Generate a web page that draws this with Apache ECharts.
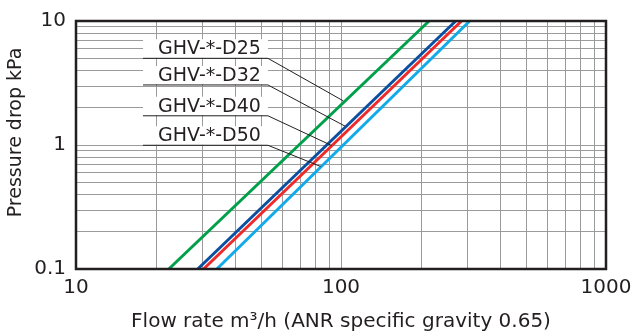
<!DOCTYPE html>
<html><head><meta charset="utf-8">
<script src="https://cdn.jsdelivr.net/npm/echarts@6/dist/echarts.min.js"></script>
<style>html,body{margin:0;padding:0;background:#fff}#c{width:635px;height:331px}</style>
</head><body><div id="c"></div>
<script>
// Series: [flow m3/h, pressure drop kPa] at both ends of each straight line (log-log)
const seriesNames = ['GHV-*-D25', 'GHV-*-D32', 'GHV-*-D40', 'GHV-*-D50'];
const seriesColors = ['#00a04a', '#0a4fa0', '#ee2a2a', '#12aae8'];
const d25 = [[22.4, 0.1], [215, 10]];
const d32 = [[28.8, 0.1], [271, 10]];
const d40 = [[30.3, 0.1], [285, 10]];
const d50 = [[34.0, 0.1], [306, 10]];
const seriesData = [d25, d32, d40, d50];
// Leader lines (data coordinates): start of underline, corner, point on curve
const leaderStartX = 17.9;
const leaderCornerX = 53;
const leaderY = [5.0, 3.05, 1.72, 0.995];
const leaderEnd = [[102, 2.27], [103.5, 1.42], [92.2, 0.99], [83.8, 0.671]];
// Axes
const xMin = 10, xMax = 1000, yMin = 0.1, yMax = 10;
const xMinorGrid = [20, 30, 40, 50, 60, 70, 80, 90, 200, 300, 400, 500, 600, 700, 800, 900];
const yMinorGrid = [0.2, 0.3, 0.4, 0.5, 0.6, 0.7, 0.8, 0.9, 2, 3, 4, 5, 6, 7, 8, 9];
const xTitle = 'Flow rate m³/h (ANR specific gravity 0.65)';
const yTitle = 'Pressure drop kPa';

const FONT = '"DejaVu Sans", sans-serif';
const TXT = '#231f20';
const GRIDC = '#9b9b9b';

const chart = echarts.init(document.getElementById('c'), null, {renderer: 'canvas'});

const series = [];
series.push({
  type: 'line', data: [], z: 1, silent: true,
  markLine: {
    silent: true, symbol: 'none', label: {show: false}, animation: false,
    lineStyle: {color: GRIDC, width: 1, type: 'solid'},
    data: xMinorGrid.map(v => ({xAxis: v})).concat(yMinorGrid.map(v => ({yAxis: v})))
  }
});
seriesData.forEach((d, i) => {
  series.push({
    type: 'line', name: seriesNames[i], data: d, showSymbol: false, symbol: 'none',
    z: 6, silent: true, lineStyle: {color: seriesColors[i], width: 3}
  });
});
leaderY.forEach((y, i) => {
  series.push({
    type: 'line', data: [[leaderStartX, y], [leaderCornerX, y], leaderEnd[i]],
    showSymbol: false, symbol: 'none', z: 7, silent: true,
    lineStyle: {color: '#231f20', width: 1}
  });
});

const fmt = v => String(v);
chart.setOption({
  animation: false,
  backgroundColor: '#fff',
  grid: {left: 76, right: 29, top: 21, bottom: 62, show: true, borderColor: '#231f20', borderWidth: 2.5, z: 8},
  xAxis: {
    type: 'log', logBase: 10, min: xMin, max: xMax,
    axisLine: {show: false}, axisTick: {show: false},
    axisLabel: {fontSize: 20, color: TXT, fontFamily: FONT, margin: 9, formatter: fmt},
    splitLine: {show: true, lineStyle: {color: GRIDC, width: 1}}
  },
  yAxis: {
    type: 'log', logBase: 10, min: yMin, max: yMax,
    axisLine: {show: false}, axisTick: {show: false},
    axisLabel: {fontSize: 20, color: TXT, fontFamily: FONT, margin: 10, formatter: fmt},
    splitLine: {show: true, lineStyle: {color: GRIDC, width: 1}}
  },
  series: series
});

const graphics = [
  {type: 'text', x: 341, y: 322, z: 10, silent: true,
   style: {text: xTitle, font: '20px ' + FONT, fill: TXT, textAlign: 'center', textVerticalAlign: 'middle'}},
  {type: 'text', x: 16.5, y: 132.5, rotation: Math.PI / 2, z: 10, silent: true,
   style: {text: yTitle, font: '19px ' + FONT, fill: TXT, textAlign: 'center', textVerticalAlign: 'middle'}}
];
leaderY.forEach((y, i) => {
  const p0 = chart.convertToPixel({gridIndex: 0}, [leaderStartX, y]);
  const p1 = chart.convertToPixel({gridIndex: 0}, [leaderCornerX, y]);
  graphics.push({type: 'rect', z: 5, silent: true,
    shape: {x: p0[0], y: p0[1] - 19, width: p1[0] - p0[0], height: 18.5},
    style: {fill: '#fff'}});
  graphics.push({type: 'text', z: 9, silent: true, x: (p0[0] + p1[0]) / 2 + 4, y: p0[1] - 9,
    style: {text: seriesNames[i], font: '19px ' + FONT, fill: TXT, textAlign: 'center', textVerticalAlign: 'middle'}});
});
chart.setOption({graphic: graphics});
</script>
</body></html>
